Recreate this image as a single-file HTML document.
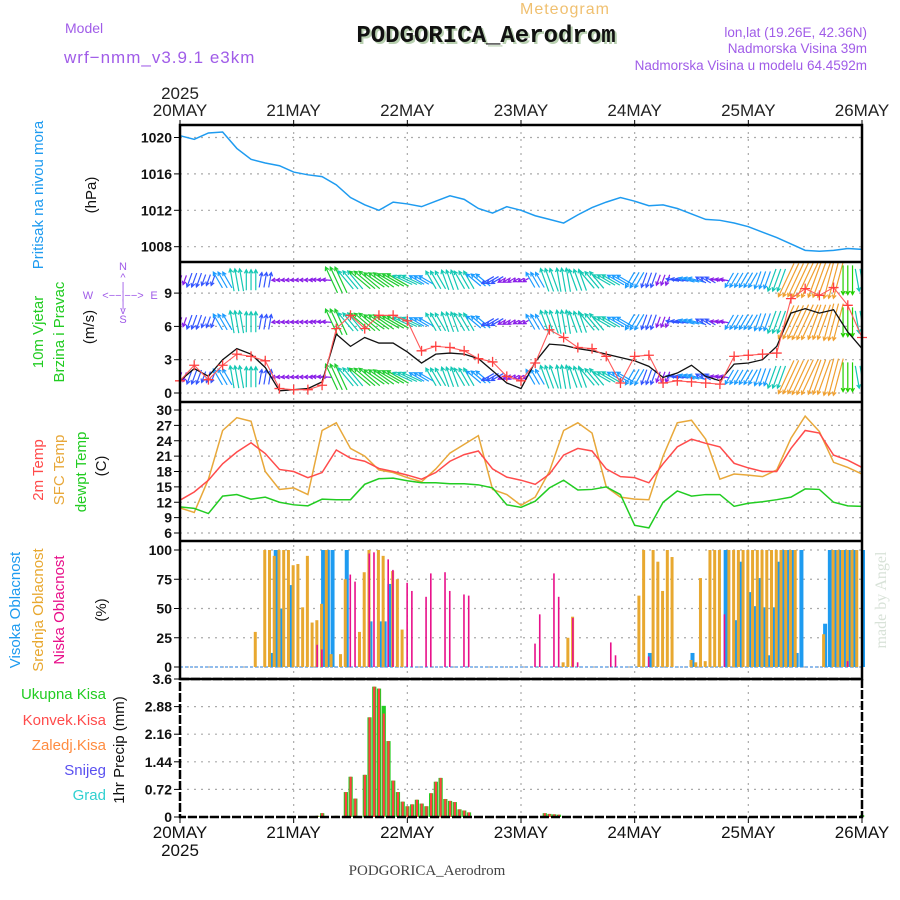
<!DOCTYPE html>
<html><head><meta charset="utf-8"><style>
body{margin:0;background:#fff;}
svg{display:block;font-family:"Liberation Sans",sans-serif;}
</style></head><body>
<svg id="c" width="900" height="900" viewBox="0 0 900 900"><defs><clipPath id="wclip"><rect x="180" y="262" width="682" height="140"/></clipPath></defs></svg>
<script>
// ---------- data ----------
const dayLabels=["20MAY","21MAY","22MAY","23MAY","24MAY","25MAY","26MAY"];
const pressTicks=[1020,1016,1012,1008];
const windTicks=[0,3,6,9];
const tempTicks=[6,9,12,15,18,21,24,27,30];
const cloudTicks=[0,25,50,75,100];
const precipTicks=[0,0.72,1.44,2.16,2.88,3.6];
// 3-hourly series (49 points, hour = 3*i)
const pressure=[1020.2,1019.8,1020.5,1020.6,1018.8,1017.6,1017.2,1016.9,1016.2,1015.9,1015.7,1014.8,1013.4,1012.6,1012.0,1012.9,1012.7,1012.4,1013.0,1013.6,1013.2,1012.2,1011.7,1012.4,1012.0,1011.4,1011.0,1010.6,1011.5,1012.3,1012.9,1013.4,1013.0,1012.5,1012.6,1012.2,1011.6,1011.0,1010.9,1010.6,1010.2,1009.6,1009.0,1008.3,1007.6,1007.5,1007.6,1007.8,1007.7];
const t2m=[12.4,14.0,16.3,19.5,21.8,23.6,21.5,18.4,18.0,16.8,17.8,22.2,20.6,20.0,18.6,18.0,17.3,16.5,17.8,20.0,21.3,22.0,18.5,16.9,16.3,15.5,17.5,21.2,22.5,22.0,18.5,17.0,16.8,15.8,19.5,22.8,24.3,23.5,22.8,19.6,18.7,18.0,18.0,22.5,26.0,25.5,21.2,20.2,18.8];
const tsfc=[10.9,10.0,16.5,26.0,28.5,27.8,18.0,14.5,14.8,13.5,26.0,27.5,22.5,21.0,18.3,17.8,16.8,16.0,18.5,21.6,23.3,25.0,14.5,13.5,11.4,13.0,18.0,26.0,27.5,25.5,15.0,13.0,12.6,12.5,21.0,27.5,28.0,24.3,16.5,17.5,17.3,17.0,18.3,24.5,28.8,25.8,19.8,18.8,17.5];
const tdew=[11.1,10.8,9.8,13.2,13.5,12.6,13.0,12.0,11.5,11.3,12.6,12.5,12.5,15.5,16.6,16.7,16.2,15.8,15.8,15.6,15.6,15.4,14.8,11.5,11.0,12.2,14.8,16.3,14.4,14.5,15.0,13.5,7.5,7.0,12.0,14.2,13.2,13.5,13.5,11.2,11.8,12.1,12.5,13.0,14.6,14.5,12.0,11.3,11.2];
const windSpeed=[1.1,2.2,1.5,3.0,4.0,3.5,2.3,0.2,0.3,0.4,1.0,5.3,4.2,5.0,4.5,4.5,3.7,2.7,3.5,3.6,3.5,3.1,2.0,0.9,0.4,2.8,4.4,4.3,4.0,3.8,3.5,3.2,2.9,2.4,1.4,1.8,2.5,1.5,1.1,2.6,2.7,3.0,4.2,7.2,7.6,7.2,7.5,5.5,4.0];
const windGust=[1.1,2.5,1.2,2.5,3.5,3.3,2.9,0.4,0.3,0.3,0.7,5.8,7.0,5.8,7.0,7.0,6.5,3.8,4.2,4.1,3.8,3.1,2.8,1.5,1.1,2.7,5.7,5.0,4.1,4.0,3.3,0.9,3.3,3.4,0.9,1.1,1.0,0.9,0.8,3.3,3.4,3.5,3.6,8.5,9.4,8.8,9.5,7.9,5.0];
const windDir=[200,200,200,330,350,0,10,265,265,270,275,335,320,310,305,300,295,300,330,340,330,310,240,240,240,330,340,350,340,320,300,300,210,200,200,280,285,300,280,210,210,200,200,205,205,200,195,180,170];
// hourly cloud bars (hour index 0..144)
const hiHours=[19,20,21,23,30,31,32,35,40,42,43,44,99,108,115,117,118,120,121,122,123,124,125,126,127,128,129,130,131,136,137,138,139,140,141,142,144];
const hiVals=[12,100,50,70,100,100,100,100,39,39,39,71,12,12,100,40,90,64,52,76,51,10,51,90,100,100,100,12,100,37,100,100,100,100,100,100,100];
const midHours=[16,18,19,20,21,22,23,24,25,26,27,28,29,30,31,32,34,35,38,39,40,42,43,45,46,47,81,82,83,97,98,100,101,102,103,104,108,109,110,111,112,113,114,116,117,118,119,120,121,122,123,124,125,126,127,128,129,130,136,138,139,140,141,142,143];
const midVals=[30,100,100,95,100,100,100,87,88,51,95,38,40,54,100,11,11,75,30,81,100,100,95,82,75,32,4,25,43,61,100,100,90,65,100,94,6,4,76,5,100,100,100,100,100,100,100,100,100,100,100,100,100,100,100,100,100,100,28,100,100,100,100,100,100];
const lowHours=[29,30,36,37,40,41,44,45,48,49,52,53,56,57,60,61,75,76,79,80,83,84,91,92,99,115,141];
const lowVals=[19,15,79,73,97,98,92,83,72,65,60,80,81,65,62,61,20,45,80,60,42,4,21,10,9,45,5];
// hourly precipitation
const precipHours=[29,30,33,35,36,37,39,40,41,42,43,44,45,46,47,48,49,50,51,52,53,54,55,56,57,58,59,60,61,77,78,79,80,144];
const totalPrecip=[0.03,0.1,0.03,0.65,1.05,0.48,1.1,2.6,3.4,3.35,2.9,1.98,0.95,0.65,0.4,0.28,0.33,0.45,0.35,0.28,0.62,0.92,1.02,0.47,0.42,0.39,0.2,0.17,0.12,0.1,0.08,0.07,0.06,0.05];
const convPrecip=[0.03,0.1,0.03,0.65,1.05,0.48,1.1,2.6,3.4,3.35,2.7,1.98,0.95,0.65,0.4,0.28,0.33,0.45,0.35,0.28,0.62,0.92,1.02,0.47,0.42,0.39,0.2,0.17,0.12,0.1,0.08,0.07,0.06,0.05];

// ---------- axes ----------
const X0=180,X1=862;
const xH=h=>X0+(X1-X0)*h/144;
const yP=v=>137.5+(1020-v)*9.1;
const yW=v=>393-v*11.1;
const yT=v=>410+(30-v)*5.125;
const yC=v=>667-v*1.17;
const yR=v=>817-v*138/3.6;
const NS="http://www.w3.org/2000/svg";
const svg=document.getElementById('c');
function mk(tag,attrs,parent){const e=document.createElementNS(NS,tag);for(const k in attrs)e.setAttribute(k,attrs[k]);(parent||svg).appendChild(e);return e;}
function txt(s,x,y,opt,parent){const e=mk('text',Object.assign({x:x,y:y},opt||{}),parent);e.textContent=s;return e;}

// grid
const grid=mk('g',{});


for(let d=1;d<6;d++){const x=xH(d*24);mk('line',{x1:x,y1:125,x2:x,y2:817,stroke:'#aaa','stroke-dasharray':'2,5','stroke-width':1.2},grid);}
function hgrid(ticks,fy){ticks.forEach(t=>{mk('line',{x1:X0,y1:fy(t),x2:X1,y2:fy(t),stroke:'#aaa','stroke-dasharray':'2,5','stroke-width':1.2},grid);});}
hgrid(pressTicks,yP);hgrid(windTicks,yW);hgrid(tempTicks,yT);hgrid(cloudTicks,yC);hgrid(precipTicks.slice(0,5),yR);

// tick labels
function yticks(ticks,fy,name,fmt){const g=mk('g',{});


ticks.forEach(t=>{txt(fmt?fmt(t):String(t),172,fy(t)+5,{'text-anchor':'end','font-size':14,'font-weight':'bold',fill:'#111'},g);mk('line',{x1:174,y1:fy(t),x2:X0,y2:fy(t),stroke:'#000'},g);});}
yticks(pressTicks,yP,'pressure-y-ticks');yticks(windTicks,yW,'wind-y-ticks');yticks(tempTicks,yT,'temp-y-ticks');yticks(cloudTicks,yC,'cloud-y-ticks');
yticks(precipTicks,yR,'precip-y-ticks',t=>t===0?'0':(t===3.6?'3.6':t.toFixed(2)));

// date labels top & bottom
const dTop=mk('g',{});


const dBot=mk('g',{});


dayLabels.forEach((l,i)=>{const x=xH(i*24);txt(l,x,116,{'text-anchor':'middle','font-size':17,fill:'#222'},dTop);txt(l,x,838,{'text-anchor':'middle','font-size':17,fill:'#111'},dBot);
mk('line',{x1:x,y1:120,x2:x,y2:125,stroke:'#000'},dTop);mk('line',{x1:x,y1:817,x2:x,y2:823,stroke:'#000'},dBot);});
txt('2025',180,99,{'text-anchor':'middle','font-size':17,fill:'#222'},dTop);
txt('2025',180,856,{'text-anchor':'middle','font-size':17,fill:'#111'},dBot);

// ---------- pressure ----------
const pl=mk('polyline',{points:pressure.map((v,i)=>xH(i*3)+','+yP(v)).join(' '),fill:'none',stroke:'#1e9bf0','stroke-width':1.5});



// ---------- wind arrows ----------
function wcol(v){if(v<1.5)return'#8a1ee8';if(v<2.5)return'#3355ff';if(v<3.5)return'#1a9bff';if(v<4.5)return'#14c8b4';if(v<5.5)return'#1fcc30';if(v<6.5)return'#22d000';if(v<7.2)return'#d8d020';if(v<8)return'#f0a030';return'#ff3060';}
const wg=mk('g',{'stroke-width':1.2,fill:'none','clip-path':'url(#wclip)'});


const rowCenters=[280,322,377];
windDir.forEach((d,i)=>{const v=windSpeed[i];const len=5+v*4.4;const r=d*Math.PI/180;const dx=Math.sin(r)*len,dy=-Math.cos(r)*len;const c=wcol(v);
 for(let k=-1;k<=1;k++){const cx=xH(i*3+k);if(cx<X0||cx>X1)continue;
  rowCenters.forEach(cy=>{const x1=cx-dx/2,y1=cy-dy/2,x2=cx+dx/2,y2=cy+dy/2;
   const a=Math.atan2(y2-y1,x2-x1);const hl=4;
   mk('path',{d:`M${x1},${y1}L${x2},${y2}M${x2-hl*Math.cos(a-0.5)},${y2-hl*Math.sin(a-0.5)}L${x2},${y2}L${x2-hl*Math.cos(a+0.5)},${y2-hl*Math.sin(a+0.5)}`,stroke:c},wg);});}
});
const sl=mk('polyline',{points:windSpeed.map((v,i)=>xH(i*3)+','+yW(v)).join(' '),fill:'none',stroke:'#111','stroke-width':1.3});


const gl=mk('polyline',{points:windGust.map((v,i)=>xH(i*3)+','+yW(v)).join(' '),fill:'none',stroke:'#ff5a5a','stroke-width':1.1});


const gm=mk('g',{stroke:'#ff4040','stroke-width':1.3});


windGust.forEach((v,i)=>{const x=xH(i*3),y=yW(v);mk('path',{d:`M${x-5},${y}H${x+5}M${x},${y-5}V${y+5}`},gm);});

// ---------- temperature ----------
[[tsfc,'#e8a83a','sfc-temp-line'],[t2m,'#ff4b4b','t2m-line'],[tdew,'#22cc22','dewpoint-line']].forEach(s=>{
 const p=mk('polyline',{points:s[0].map((v,i)=>xH(i*3)+','+yT(v)).join(' '),fill:'none',stroke:s[1],'stroke-width':1.5});
 
 
});

// ---------- clouds ----------
const cg=mk('g',{});


mk('line',{x1:X0,y1:yC(0),x2:X1,y2:yC(0),stroke:'#6fa8e8','stroke-width':1.5,'stroke-dasharray':'3,2'},cg);
hiHours.forEach((h,i)=>{const b=mk('rect',{x:xH(h)-1,y:yC(hiVals[i]),width:4,height:yC(0)-yC(hiVals[i]),fill:'#1e9bf0'},cg);});
midHours.forEach((h,i)=>{const b=mk('rect',{x:xH(h)-2,y:yC(midVals[i]),width:3,height:yC(0)-yC(midVals[i]),fill:'#e8a830'},cg);});
lowHours.forEach((h,i)=>{const b=mk('rect',{x:xH(h)-1,y:yC(lowVals[i]),width:1.6,height:yC(0)-yC(lowVals[i]),fill:'#e8108a'},cg);});

// ---------- precipitation ----------
const pg=mk('g',{});


precipHours.forEach((h,i)=>{const x=xH(h);
 const b1=mk('rect',{x:x-2,y:yR(totalPrecip[i]),width:4.2,height:yR(0)-yR(totalPrecip[i]),fill:'#22cc22'},pg);
 
 
 const b2=mk('rect',{x:x-1,y:yR(convPrecip[i]),width:2.2,height:yR(0)-yR(convPrecip[i]),fill:'#ff4040'},pg);
 
 
});

// ---------- frames ----------
const fr=mk('g',{fill:'none',stroke:'#000','stroke-width':2.5});


mk('rect',{x:X0,y:125,width:X1-X0,height:554},fr);
[262,402,541].forEach(y=>mk('line',{x1:X0,y1:y,x2:X1,y2:y},fr));
mk('path',{d:`M${X0},679H${X1}V817H${X0}Z`,'stroke-dasharray':'9,2'},fr);
</script>
<svg width="900" height="900" style="position:absolute;left:0;top:0;font-family:'Liberation Sans',sans-serif">
 <text x="65" y="33" font-size="14" fill="#a05ce8">Model</text>
 <text x="64" y="63" font-size="17" fill="#a05ce8" letter-spacing="1">wrf−nmm_v3.9.1 e3km</text>
 <text x="520" y="14" font-size="16" fill="#f0c070" letter-spacing="1">Meteogram</text>
 <text x="488" y="44" font-size="24" font-weight="bold" fill="#b8d0b0" text-anchor="middle" font-family="Liberation Mono,monospace">PODGORICA_Aerodrom</text>
 <text x="486" y="42" font-size="24" font-weight="bold" fill="#111" text-anchor="middle" font-family="Liberation Mono,monospace">PODGORICA_Aerodrom</text>
 <text x="867" y="37" font-size="13.5" fill="#a05ce8" text-anchor="end">lon,lat (19.26E, 42.36N)</text>
 <text x="867" y="53" font-size="13.5" fill="#a05ce8" text-anchor="end">Nadmorska Visina 39m</text>
 <text x="867" y="70" font-size="13.5" fill="#a05ce8" text-anchor="end">Nadmorska Visina u modelu 64.4592m</text>
 <text transform="translate(43,195) rotate(-90)" font-size="15" fill="#1e9bf0" text-anchor="middle">Pritisak na nivou mora</text>
 <text transform="translate(96,195) rotate(-90)" font-size="15" fill="#111" text-anchor="middle">(hPa)</text>
 <text transform="translate(43,332) rotate(-90)" font-size="15" fill="#22cc22" text-anchor="middle">10m Vjetar</text>
 <text transform="translate(64,332) rotate(-90)" font-size="15" fill="#22cc22" text-anchor="middle">Brzina i Pravac</text>
 <text transform="translate(94,327) rotate(-90)" font-size="15" fill="#111" text-anchor="middle">(m/s)</text>
 <g fill="#a05ce8" font-size="11" text-anchor="middle">
  <text x="123" y="270">N</text><text x="123" y="281">^</text><text x="123" y="290">|</text>
  <text x="88" y="299">W</text><text x="123" y="299">&lt;−−|−−&gt;</text><text x="154" y="299">E</text>
  <text x="123" y="307">|</text><text x="123" y="314">v</text><text x="123" y="323">S</text>
 </g>
 <text transform="translate(43,470) rotate(-90)" font-size="15" fill="#ff4b4b" text-anchor="middle">2m Temp</text>
 <text transform="translate(64,470) rotate(-90)" font-size="15" fill="#e8a83a" text-anchor="middle">SFC Temp</text>
 <text transform="translate(86,472) rotate(-90)" font-size="15" fill="#22cc22" text-anchor="middle">dewpt Temp</text>
 <text transform="translate(106,466) rotate(-90)" font-size="15" fill="#111" text-anchor="middle">(C)</text>
 <text transform="translate(20,610) rotate(-90)" font-size="15" fill="#1e9bf0" text-anchor="middle">Visoka Oblacnost</text>
 <text transform="translate(43,610) rotate(-90)" font-size="15" fill="#e8a830" text-anchor="middle">Srednja Oblacnost</text>
 <text transform="translate(64,610) rotate(-90)" font-size="15" fill="#e8108a" text-anchor="middle">Niska Oblacnost</text>
 <text transform="translate(106,610) rotate(-90)" font-size="15" fill="#111" text-anchor="middle">(%)</text>
 <text x="106" y="699" font-size="15" fill="#22cc22" text-anchor="end">Ukupna Kisa</text>
 <text x="106" y="725" font-size="15" fill="#ff4b4b" text-anchor="end">Konvek.Kisa</text>
 <text x="106" y="750" font-size="15" fill="#ff8c40" text-anchor="end">Zaledj.Kisa</text>
 <text x="106" y="775" font-size="15" fill="#5a50f0" text-anchor="end">Snijeg</text>
 <text x="106" y="800" font-size="15" fill="#30d0d0" text-anchor="end">Grad</text>
 <text transform="translate(124,750) rotate(-90)" font-size="15" fill="#111" text-anchor="middle">1hr Precip (mm)</text>
 <text transform="translate(886,600) rotate(-90)" font-size="16" fill="#d8e2d8" text-anchor="middle" font-family="Liberation Serif,serif">made by Angel</text>
 <text x="427" y="875" font-size="15" fill="#444" text-anchor="middle" font-family="Liberation Serif,serif">PODGORICA_Aerodrom</text>
</svg>
</body></html>
